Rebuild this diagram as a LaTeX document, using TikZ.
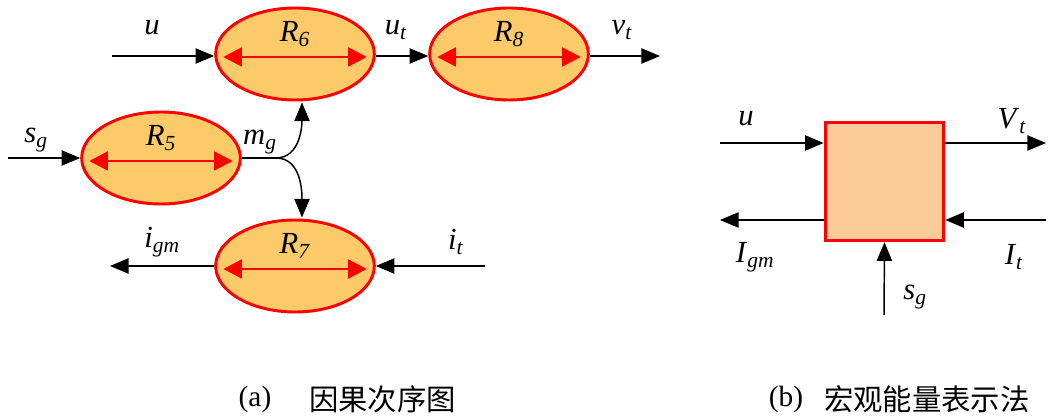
\documentclass[tikz,border=0pt]{standalone}
\usepackage{fontspec}
\setmainfont{Liberation Serif}
\newfontfamily\cjk{Noto Sans CJK SC}
\usetikzlibrary{arrows.meta,shapes.geometric,calc}
\definecolor{ellfill}{HTML}{FDCA6A}
\definecolor{boxfill}{HTML}{FDCB9A}
\definecolor{myred}{HTML}{FF0000}
\newcommand\lab[2]{\textit{#1}\textsubscript{\textit{#2}}}
\tikzset{
  ell/.style={ellipse,draw=myred,line width=2.2pt,fill=ellfill,minimum width=119pt,minimum height=69pt,inner sep=0pt},
  sig/.style={draw=black,line width=1.1pt,-{Triangle[length=14pt,width=11.5pt]}},
  dbl/.style={draw=myred,line width=2.2pt,{Triangle[length=14pt,width=14pt]}-{Triangle[length=14pt,width=14pt]}},
  lbl/.style={font=\rmfamily\fontsize{23}{26}\selectfont,inner sep=0pt},
  captxt/.style={font=\rmfamily\fontsize{22}{26}\selectfont,inner sep=0pt}
}
\begin{document}
\begin{tikzpicture}[x=0.75pt,y=-0.75pt]
\useasboundingbox[fill=white] (0,0) rectangle (1048,416);
% ellipses
\node[ell] (R6) at (295,54) {};
\node[ell] (R8) at (509,54) {};
\node[ell] (R5) at (161,158) {};
\node[ell] (R7) at (295,266) {};
% inner double arrows and labels
\foreach \n/\k in {R6/6,R8/8,R5/5,R7/7}{
  \draw[dbl] ($(\n.west)+(9,3)$) -- ($(\n.east)+(-9,3)$);
  \node[lbl] at ($(\n.center)+(0,-20)$) {\lab{R}{\k}};
}
% free ends
\coordinate (uin) at (112,56);
\coordinate (vout) at (660,56);
\coordinate (sgin) at (8,158);
\coordinate (br) at (276,158);
\coordinate (igmout) at (110,266);
\coordinate (itin) at (485,266);
\draw[sig] (uin) -- (R6.west |- uin);
\draw[sig] (R6.east |- uin) -- (R8.west |- uin);
\draw[sig] (R8.east |- vout) -- (vout);
\draw[sig] (sgin) -- (R5.west);
\draw[line width=1.1pt] (R5.east) -- (br);
\draw[sig] (br) to[out=0,in=-90] ($(R6.south)+(7,1)$);
\draw[sig] (br) to[out=0,in=90] ($(R7.north)+(7,-1)$);
\draw[sig] (R7.west) -- (igmout);
\draw[sig] (itin) -- (R7.east);
% labels
\node[lbl] at (152,28) {\textit{u}};
\node[lbl] at (396,30) {\lab{u}{t}};
\node[lbl] at (622,30) {\lab{v}{t}};
\node[lbl] at (36,140) {\lab{s}{g}};
\node[lbl] at (260,142) {\lab{m}{g}};
\node[lbl] at (162,242) {\lab{i}{gm}};
\node[lbl] at (456,242) {\lab{i}{t}};
% right block
\node[draw=myred,line width=2.2pt,fill=boxfill,minimum width=89pt,minimum height=89pt,inner sep=0pt] (B) at (884.5,181.5) {};
\coordinate (bu) at (720,143);
\coordinate (bv) at (1046,143);
\coordinate (bigm) at (720,220);
\coordinate (bit) at (1046,220);
\coordinate (bsg) at (884,315);
\draw[sig] (bu) -- (B.west |- bu);
\draw[sig] (B.east |- bv) -- (bv);
\draw[sig] (B.west |- bigm) -- (bigm);
\draw[sig] (bit) -- (B.east |- bit);
\draw[sig] (bsg) -- (B.south);
\node[lbl] at (746,119) {\textit{u}};
\node[lbl] at (1012,121) {\lab{V}{t}};
\node[lbl] at (755,257) {\lab{I}{gm}};
\node[lbl] at (1014,257) {\lab{I}{t}};
\node[lbl] at (915,297) {\lab{s}{g}};
% captions
\node[captxt] (capa) at (255,399) {(a)};
\node[captxt,anchor=west] (capat) at (309,399) {\cjk 因果次序图};
\node[captxt] (capb) at (786,399) {(b)};
\node[captxt,anchor=west] (capbt) at (824,399) {\cjk 宏观能量表示法};
\end{tikzpicture}
\end{document}
